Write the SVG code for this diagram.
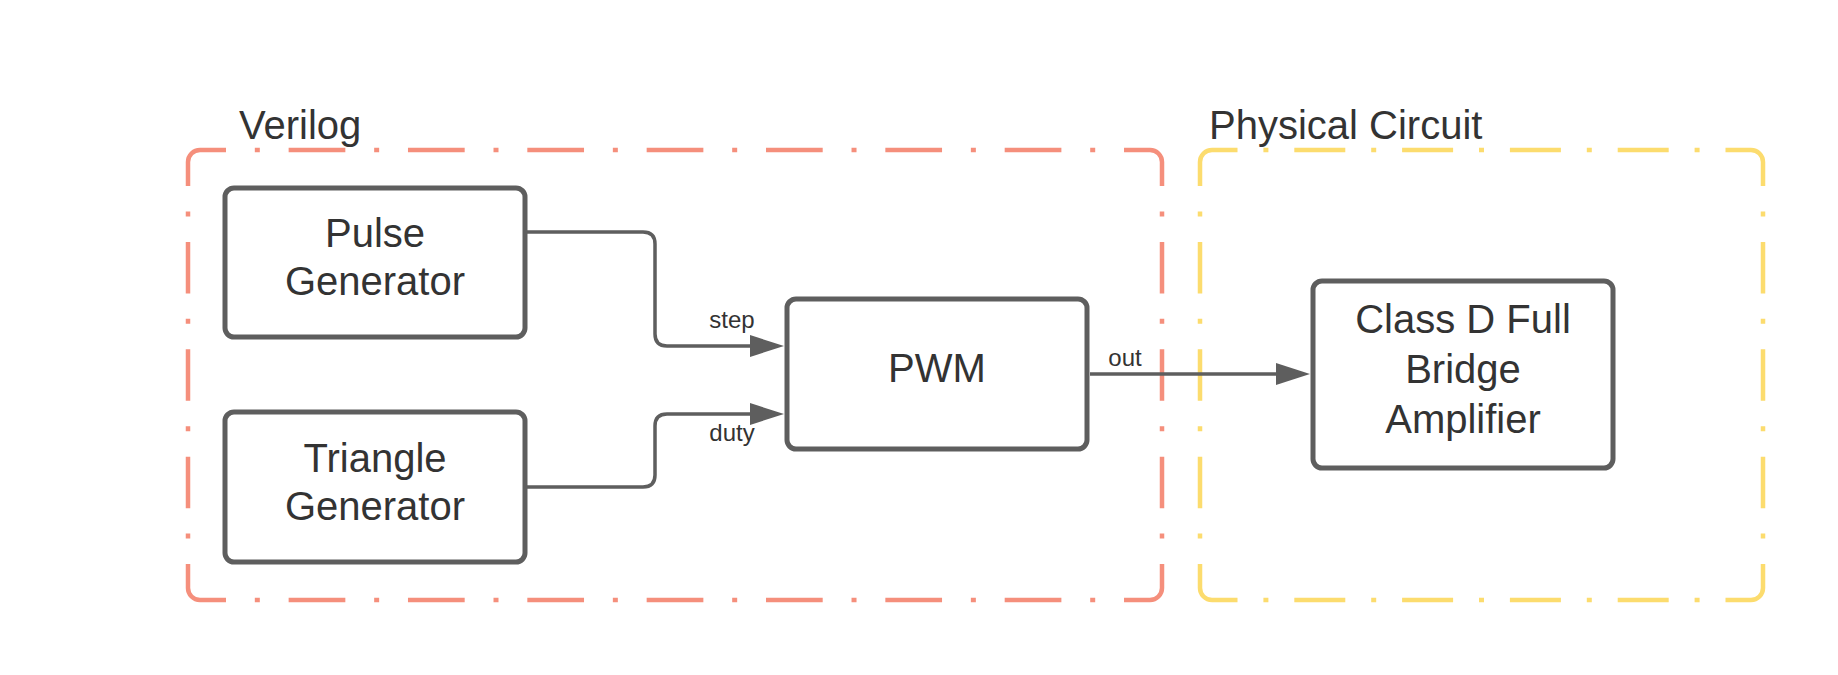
<svg xmlns="http://www.w3.org/2000/svg" width="1838" height="675" viewBox="0 0 1838 675">
<style>
.box{fill:#ffffff;stroke:#5e5e5e;stroke-width:5}
.t{font-family:"Liberation Sans",Arial,sans-serif;fill:#333333;font-size:40px;text-anchor:middle}
.title{font-family:"Liberation Sans",Arial,sans-serif;fill:#333333;font-size:40px;text-anchor:start}
.sm{font-family:"Liberation Sans",Arial,sans-serif;fill:#333333;font-size:24px;text-anchor:middle}
.conn{fill:none;stroke:#5e5e5e;stroke-width:3.5}
.head{fill:#5e5e5e;stroke:none}
.red{fill:none;stroke:#f58f7c;stroke-width:4.5;stroke-linecap:butt}
.yel{fill:none;stroke:#fcdc6e;stroke-width:4.5;stroke-linecap:butt}
.rh{stroke-dasharray:56.7 28.82 5 28.82;stroke-dashoffset:30.7}
.v{stroke-dasharray:51.5 25.44 5 25.44;stroke-dashoffset:27.5}
.yh{stroke-dasharray:51 25.9 5 25.9;stroke-dashoffset:25.5}
</style>
<rect x="0" y="0" width="1838" height="675" fill="#ffffff"/>

<g id="verilog-container">
  <path class="red" d="M188,162 A12,12 0 0 1 200,150 M1150,150 A12,12 0 0 1 1162,162 M1162,588 A12,12 0 0 1 1150,600 M200,600 A12,12 0 0 1 188,588"/>
  <path class="red rh" d="M200,150 H1150"/>
  <path class="red rh" d="M200,600 H1150"/>
  <path class="red v" d="M188,162 V588"/>
  <path class="red v" d="M1162,162 V588"/>
  <text class="title" x="239" y="139">Verilog</text>
</g>

<g id="physical-container">
  <path class="yel" d="M1200,162 A12,12 0 0 1 1212,150 M1751,150 A12,12 0 0 1 1763,162 M1763,588 A12,12 0 0 1 1751,600 M1212,600 A12,12 0 0 1 1200,588"/>
  <path class="yel yh" d="M1212,150 H1751"/>
  <path class="yel yh" d="M1212,600 H1751"/>
  <path class="yel v" d="M1200,162 V588"/>
  <path class="yel v" d="M1763,162 V588"/>
  <text class="title" x="1209" y="139">Physical Circuit</text>
</g>

<g id="connectors">
  <path class="conn" d="M527,232 H643 Q655,232 655,244 V334 Q655,346 667,346 H752"/>
  <polygon class="head" points="784,346 750,335 750,357"/>
  <text class="sm" x="732" y="328">step</text>
  <path class="conn" d="M527,487 H643 Q655,487 655,475 V426 Q655,414 667,414 H752"/>
  <polygon class="head" points="784,414 750,403 750,425"/>
  <text class="sm" x="732" y="441">duty</text>
  <path class="conn" d="M1090,374 H1277"/>
  <polygon class="head" points="1310,374 1276,363 1276,385"/>
  <text class="sm" x="1125" y="366">out</text>
</g>

<g id="pulse-generator">
  <rect class="box" x="225" y="188" width="300" height="149" rx="9"/>
  <text class="t" x="375" y="247">Pulse</text>
  <text class="t" x="375" y="295">Generator</text>
</g>

<g id="triangle-generator">
  <rect class="box" x="225" y="412" width="300" height="150" rx="9"/>
  <text class="t" x="375" y="471.5">Triangle</text>
  <text class="t" x="375" y="520">Generator</text>
</g>

<g id="pwm">
  <rect class="box" x="787" y="299" width="300" height="150" rx="9"/>
  <text class="t" x="937" y="382">PWM</text>
</g>

<g id="class-d-amplifier">
  <rect class="box" x="1313" y="281" width="300" height="187" rx="9"/>
  <text class="t" x="1463" y="333">Class D Full</text>
  <text class="t" x="1463" y="383">Bridge</text>
  <text class="t" x="1463" y="433">Amplifier</text>
</g>
</svg>
